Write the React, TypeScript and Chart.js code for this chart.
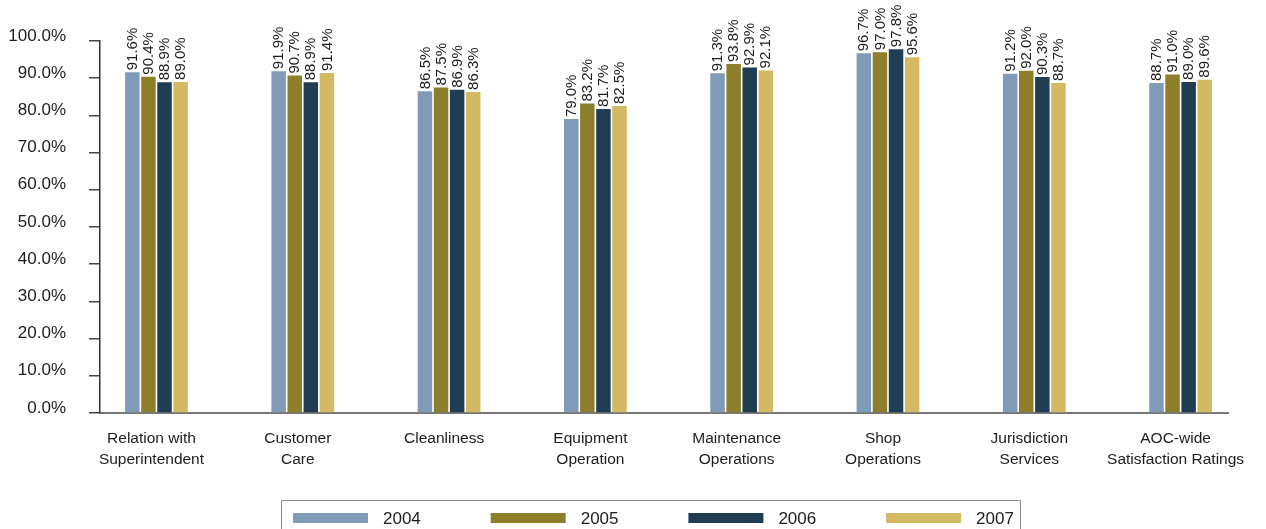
import React, { useEffect, useRef } from "react";
import { Chart, registerables } from "chart.js";

Chart.register(...registerables);

// ---------- data ----------
const categories: string[][] = [
  ["Relation with", "Superintendent"],
  ["Customer", "Care"],
  ["Cleanliness"],
  ["Equipment", "Operation"],
  ["Maintenance", "Operations"],
  ["Shop", "Operations"],
  ["Jurisdiction", "Services"],
  ["AOC-wide", "Satisfaction Ratings"],
];
const seriesNames = ["2004", "2005", "2006", "2007"];
const values2004 = [91.6, 91.9, 86.5, 79.0, 91.3, 96.7, 91.2, 88.7];
const values2005 = [90.4, 90.7, 87.5, 83.2, 93.8, 97.0, 92.0, 91.0];
const values2006 = [88.9, 88.9, 86.9, 81.7, 92.9, 97.8, 90.3, 89.0];
const values2007 = [89.0, 91.4, 86.3, 82.5, 92.1, 95.6, 88.7, 89.6];
const seriesValues = [values2004, values2005, values2006, values2007];
const seriesColors = ["#7f9bb8", "#8c7e2b", "#213d53", "#d4b965"];
const yMin = 0;
const yMax = 100;
const yStep = 10;

// ---------- styling ----------
const FONT = '"Liberation Sans Narrow", "Liberation Sans", Arial, sans-serif';
const TEXT = "#1c1c1c";

const pct = (v: number) => v.toFixed(1) + "%";

const dataLabelPlugin = {
  id: "dataLabels",
  afterDatasetsDraw(chart: any) {
    const ctx = chart.ctx;
    ctx.save();
    ctx.font = `15px ${FONT}`;
    ctx.fillStyle = TEXT;
    ctx.textAlign = "left";
    ctx.textBaseline = "middle";
    chart.data.datasets.forEach((ds: any, di: number) => {
      const meta = chart.getDatasetMeta(di);
      meta.data.forEach((bar: any, i: number) => {
        const v = ds.data[i].y;
        ctx.save();
        ctx.translate(bar.x + 0.5, bar.y - 2);
        ctx.rotate(-Math.PI / 2);
        ctx.fillText(pct(v), 0, 0);
        ctx.restore();
      });
    });
    ctx.restore();
  },
};

const boxLegendPlugin = {
  id: "boxLegend",
  afterDraw(chart: any) {
    const ctx = chart.ctx;
    const left = 281.5;
    const right = 1020.5;
    const top = 500.5;
    const step = 197.7;
    const swatchX = 293;
    ctx.save();
    ctx.strokeStyle = "#8a8a8a";
    ctx.lineWidth = 1;
    ctx.beginPath();
    ctx.moveTo(left, chart.height + 2);
    ctx.lineTo(left, top);
    ctx.lineTo(right, top);
    ctx.lineTo(right, chart.height + 2);
    ctx.stroke();
    ctx.font = `17px ${FONT}`;
    ctx.textAlign = "left";
    ctx.textBaseline = "middle";
    chart.data.datasets.forEach((ds: any, i: number) => {
      const x = swatchX + i * step;
      ctx.fillStyle = ds.backgroundColor;
      ctx.fillRect(x, 513, 75, 10);
      ctx.fillStyle = TEXT;
      ctx.fillText(ds.label, x + 90, 519);
    });
    ctx.restore();
  },
};

export default function App() {
  const ref = useRef<HTMLCanvasElement | null>(null);

  useEffect(() => {
    if (!ref.current) return;
    const chart = new Chart(ref.current, {
      type: "bar",
      data: {
        datasets: seriesNames.map((name, si) => ({
          label: name,
          data: seriesValues[si].map((v, i) => ({ x: i, y: v })),
          backgroundColor: seriesColors[si],
          borderWidth: 0,
          categoryPercentage: 0.44,
          barPercentage: 0.9,
        })),
      },
      options: {
        animation: false,
        responsive: true,
        maintainAspectRatio: false,
        layout: { padding: { top: 41, right: 38, bottom: 0, left: 0 } },
        plugins: {
          legend: { display: false },
          tooltip: { enabled: false },
        },
        scales: {
          x: {
            type: "linear",
            min: -0.386,
            max: 7.324,
            offset: false,
            grid: { display: false, drawTicks: false },
            border: { display: true, color: "#777777", width: 2 },
            ticks: {
              stepSize: 1,
              includeBounds: false,
              autoSkip: false,
              maxRotation: 0,
              minRotation: 0,
              padding: 15,
              labelOffset: -5,
              color: TEXT,
              font: { family: FONT, size: 15.5, lineHeight: 1.35 },
              callback: (v: any) =>
                Number.isInteger(v) && categories[v] ? categories[v] : "",
            },
            afterFit: (scale: any) => {
              scale.height = 116;
              scale.paddingLeft = 0;
              scale.paddingRight = 0;
            },
          },
          y: {
            min: yMin,
            max: yMax,
            grid: {
              display: true,
              drawOnChartArea: false,
              drawTicks: true,
              tickLength: 11,
              tickColor: "#444444",
              lineWidth: 1.5,
            },
            border: { display: true, color: "#333333", width: 1.5 },
            ticks: {
              stepSize: yStep,
              padding: 23,
              labelOffset: -5,
              color: TEXT,
              font: { family: FONT, size: 17 },
              callback: (v: any) => pct(Number(v)),
            },
            afterFit: (scale: any) => {
              scale.width = 100;
              scale.paddingTop = 0;
              scale.paddingBottom = 0;
            },
          },
        },
      },
      plugins: [dataLabelPlugin, boxLegendPlugin],
    });
    return () => chart.destroy();
  }, []);

  return (
    <div
      style={{
        position: "fixed",
        left: 0,
        top: 0,
        width: 1266,
        height: 529,
        background: "#ffffff",
      }}
    >
      <canvas ref={ref} />
    </div>
  );
}
